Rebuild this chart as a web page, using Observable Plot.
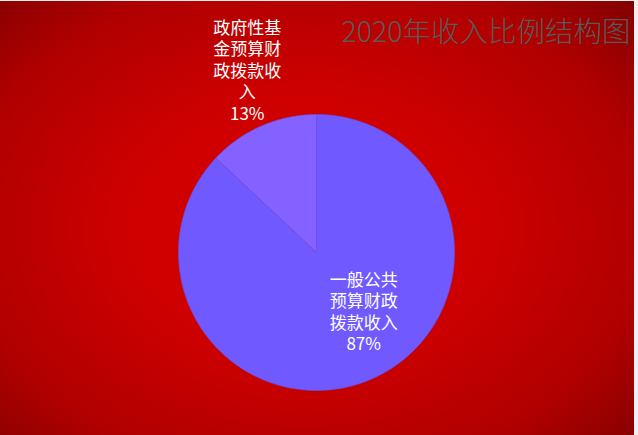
<!DOCTYPE html>
<html>
<head>
<meta charset="utf-8">
<script src="https://cdn.jsdelivr.net/npm/d3@7"></script>
<script src="https://cdn.jsdelivr.net/npm/@observablehq/plot@0.6"></script>
<style>
  html, body { margin: 0; padding: 0; background: #f0f0f0; }
  #chart { padding-top: 1px; }
</style>
</head>
<body>
<div id="chart"></div>
<script>
// ---- data ----
const categories = ["一般公共预算财政拨款收入", "政府性基金预算财政拨款收入"];
const shares = [87, 13];
const sliceColors = ["#705aff", "#8462ff"];
const titleText = "2020年收入比例结构图";

// ---- derived geometry (from data via d3.pie) ----
const rows = categories.map((c, i) => ({category: c, value: shares[i]}));
const arcs = d3.pie().sort(null).value(d => d.value).startAngle(0).endAngle(2 * Math.PI)(rows);

// sample each slice outline (unit radius, angle clockwise from 12 o'clock)
const outline = [];
arcs.forEach(a => {
  const cat = a.data.category;
  outline.push({category: cat, x: 0, y: 0});
  const n = Math.max(8, Math.ceil((a.endAngle - a.startAngle) / (Math.PI / 180)));
  for (let k = 0; k <= n; k++) {
    const t = a.startAngle + (a.endAngle - a.startAngle) * k / n;
    outline.push({category: cat, x: Math.sin(t), y: Math.cos(t)});
  }
  outline.push({category: cat, x: 0, y: 0});
});

// label placement: radius factor + small nudges (layout only)
const labelRadius = [0.55, 1.41];
const labelNudge = [[17, -11], [8, -4]];
const wrap = (s, n) => s.match(new RegExp(".{1," + n + "}", "g")).join("\n");
const labels = arcs.map((a, i) => {
  const mid = (a.startAngle + a.endAngle) / 2;
  return {
    x: Math.sin(mid) * labelRadius[i],
    y: Math.cos(mid) * labelRadius[i],
    text: wrap(a.data.category, 4) + "\n" + a.data.value + "%"
  };
});

const W = 634, H = 434;
const cx = 316, cy = 251, R = 138;

const chart = Plot.plot({
  width: W,
  height: H,
  margin: 0,
  x: {domain: [-1, 1], range: [cx - R, cx + R], axis: null},
  y: {domain: [1, -1], range: [cy - R, cy + R], axis: null},
  color: {domain: categories, range: sliceColors},
  style: {
    background: "radial-gradient(ellipse 75% 80% at 48% 52%, #da0000 0%, #cc0000 40%, #b00000 72%, #7a0000 100%)",
    fontFamily: "'Noto Sans CJK SC', 'Noto Sans', sans-serif",
    overflow: "visible"
  },
  marks: [
    Plot.line(outline, {
      x: "x", y: "y", z: "category",
      fill: "category",
      stroke: "#6a4fe6",
      strokeWidth: 0.6,
      curve: "linear",
      style: "filter: drop-shadow(2px 3px 3px rgba(60,0,0,0.55));"
    }),
    Plot.text(labels, {
      x: "x", y: "y", text: "text",
      fill: "white",
      fontSize: 17,
      lineHeight: 1.27,
      textAnchor: "middle",
      lineAnchor: "middle"
    }),
    Plot.text([titleText], {
      frameAnchor: "top-right",
      text: d => d,
      dx: -4, dy: 31,
      textAnchor: "end",
      lineAnchor: "middle",
      fill: "#5a5a5a",
      fontSize: 28.5,
      fontWeight: 300
    })
  ]
});

// apply per-label nudges
chart.querySelectorAll("g[aria-label='text'] text").forEach((t, i) => {
  if (i < labels.length) {
    t.setAttribute("transform", (t.getAttribute("transform") || "") + ` translate(${labelNudge[i][0]},${labelNudge[i][1]})`);
  }
});

document.getElementById("chart").appendChild(chart);
</script>
</body>
</html>
